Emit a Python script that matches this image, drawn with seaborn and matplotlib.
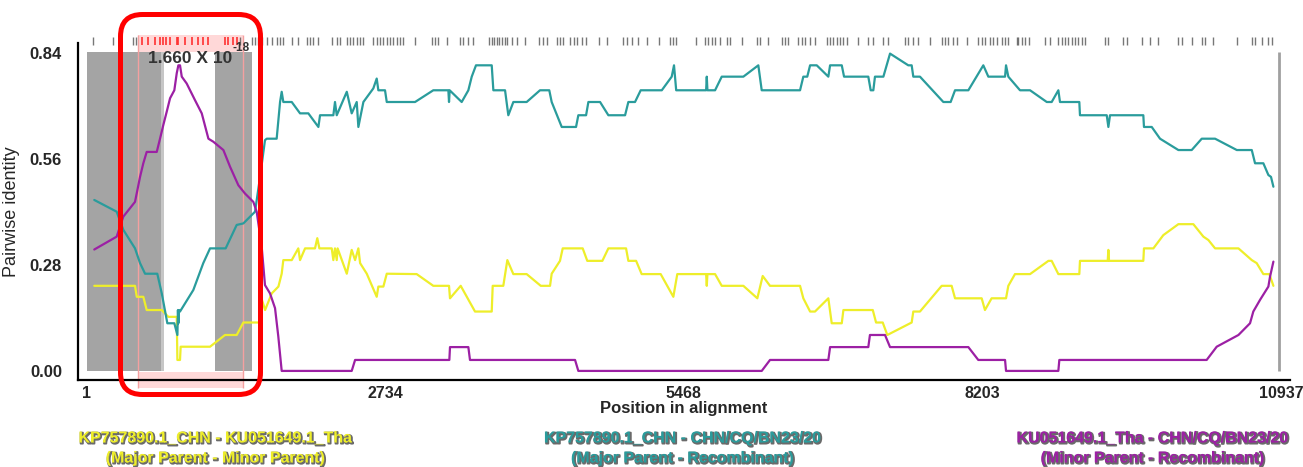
import numpy as np
import pandas as pd
import matplotlib
matplotlib.use("Agg")
import matplotlib.pyplot as plt
import matplotlib.patheffects as pe
from matplotlib.patches import FancyBboxPatch, Rectangle
import seaborn as sns

# pairwise identity traces (position in alignment, identity)
teal_pos = [72, 277, 338, 445, 491, 537, 649, 690, 741, 805, 833, 838, 842, 848, 857, 979, 1070, 1132,
            1275, 1376, 1437, 1544, 1590, 1635, 1651, 1742, 1773, 1788, 1803, 1880, 1956, 2032, 2124,
            2139, 2261, 2276, 2292, 2384, 2429, 2475, 2490, 2536, 2627, 2658, 2673, 2734, 2750, 3009,
            3176, 3314, 3320, 3326, 3436, 3497, 3528, 3567, 3711, 3726, 3833, 3863, 3909, 4031, 4153,
            4238, 4260, 4352, 4483, 4504, 4575, 4596, 4703, 4779, 4932, 4962, 5023, 5075, 5268, 5359,
            5380, 5400, 5674, 5680, 5686, 5756, 5817, 6015, 6152, 6183, 6534, 6564, 6600, 6626, 6687,
            6793, 6809, 6916, 6937, 7159, 7181, 7205, 7220, 7297, 7358, 7525, 7556, 7571, 7632, 7846,
            7913, 7953, 8075, 8212, 8258, 8411, 8420, 8441, 8548, 8640, 8793, 8838, 8899, 8914, 9091,
            9097, 9342, 9357, 9372, 9677, 9683, 9754, 9830, 9998, 10120, 10212, 10334, 10533, 10670,
            10700, 10776, 10822, 10846, 10868]
teal_ident = [0.452, 0.421, 0.373, 0.324, 0.285, 0.257, 0.257, 0.205, 0.126, 0.126, 0.095, 0.161, 0.126,
              0.161, 0.157, 0.214, 0.285, 0.324, 0.324, 0.386, 0.390, 0.421, 0.513, 0.610, 0.614, 0.614,
              0.711, 0.738, 0.711, 0.711, 0.681, 0.681, 0.645, 0.676, 0.676, 0.711, 0.676, 0.738, 0.681,
              0.711, 0.645, 0.711, 0.747, 0.773, 0.742, 0.742, 0.711, 0.711, 0.742, 0.742, 0.711, 0.742,
              0.711, 0.742, 0.778, 0.808, 0.808, 0.742, 0.742, 0.676, 0.711, 0.711, 0.742, 0.742, 0.711,
              0.645, 0.645, 0.676, 0.676, 0.711, 0.711, 0.676, 0.676, 0.711, 0.711, 0.742, 0.742, 0.778,
              0.808, 0.742, 0.742, 0.778, 0.742, 0.742, 0.778, 0.778, 0.808, 0.742, 0.742, 0.778, 0.778,
              0.808, 0.808, 0.778, 0.808, 0.808, 0.778, 0.778, 0.742, 0.742, 0.778, 0.778, 0.839, 0.808,
              0.808, 0.778, 0.778, 0.711, 0.711, 0.742, 0.742, 0.808, 0.778, 0.778, 0.808, 0.778, 0.742,
              0.742, 0.711, 0.711, 0.742, 0.711, 0.711, 0.676, 0.676, 0.645, 0.676, 0.676, 0.645, 0.645,
              0.614, 0.584, 0.584, 0.614, 0.614, 0.584, 0.584, 0.549, 0.549, 0.518, 0.513, 0.487]

yellow_pos = [72, 445, 461, 521, 552, 690, 750, 827, 833, 857, 863, 1132, 1269, 1376, 1437, 1590, 1605,
              1636, 1697, 1758, 1788, 1803, 1880, 1940, 1956, 2002, 2093, 2114, 2133, 2246, 2261, 2276,
              2292, 2300, 2384, 2429, 2460, 2490, 2506, 2567, 2658, 2673, 2719, 2750, 3024, 3176, 3320,
              3329, 3427, 3558, 3711, 3720, 3817, 3854, 3909, 4031, 4160, 4245, 4260, 4336, 4361, 4544,
              4586, 4724, 4779, 4941, 4962, 5033, 5084, 5258, 5374, 5410, 5674, 5680, 5686, 5756, 5817,
              6015, 6143, 6192, 6259, 6534, 6564, 6626, 6671, 6793, 6824, 6916, 6931, 7200, 7230, 7291,
              7333, 7556, 7571, 7632, 7831, 7922, 7953, 8197, 8227, 8288, 8420, 8441, 8502, 8640, 8808,
              8838, 8899, 9091, 9097, 9351, 9357, 9363, 9677, 9683, 9769, 9860, 9998, 10135, 10227, 10273,
              10334, 10548, 10670, 10715, 10776, 10831, 10868]
yellow_ident = [0.225, 0.225, 0.196, 0.196, 0.161, 0.161, 0.143, 0.143, 0.029, 0.029, 0.064, 0.064, 0.095,
                0.095, 0.128, 0.128, 0.190, 0.161, 0.205, 0.223, 0.257, 0.293, 0.293, 0.324, 0.293, 0.324,
                0.324, 0.351, 0.324, 0.324, 0.293, 0.324, 0.293, 0.324, 0.257, 0.320, 0.293, 0.324, 0.285,
                0.257, 0.196, 0.223, 0.223, 0.257, 0.256, 0.225, 0.225, 0.192, 0.225, 0.157, 0.157, 0.225,
                0.225, 0.293, 0.256, 0.256, 0.225, 0.225, 0.257, 0.291, 0.324, 0.324, 0.291, 0.291, 0.324,
                0.324, 0.291, 0.291, 0.256, 0.256, 0.196, 0.256, 0.256, 0.225, 0.256, 0.256, 0.225, 0.225,
                0.192, 0.251, 0.225, 0.225, 0.192, 0.157, 0.157, 0.192, 0.126, 0.126, 0.161, 0.161, 0.128,
                0.128, 0.095, 0.128, 0.157, 0.157, 0.225, 0.225, 0.192, 0.192, 0.161, 0.192, 0.192, 0.225,
                0.256, 0.256, 0.291, 0.291, 0.256, 0.256, 0.291, 0.291, 0.320, 0.291, 0.291, 0.324, 0.324,
                0.359, 0.388, 0.388, 0.355, 0.346, 0.324, 0.324, 0.293, 0.285, 0.256, 0.256, 0.225]

purple_pos = [72, 277, 338, 445, 491, 521, 552, 644, 674, 704, 735, 766, 805, 827, 842, 857, 873, 918,
              994, 1056, 1117, 1162, 1254, 1315, 1391, 1452, 1528, 1559, 1605, 1635, 1681, 1727, 1757,
              1788, 2429, 2460, 3323, 3329, 3497, 3512, 4474, 4504, 6183, 6259, 6793, 6809, 7159, 7174,
              7312, 7358, 8075, 8166, 8411, 8420, 8899, 8908, 10257, 10349, 10548, 10654, 10684, 10746,
              10822, 10837, 10868]
purple_ident = [0.321, 0.355, 0.408, 0.447, 0.513, 0.549, 0.579, 0.579, 0.614, 0.650, 0.685, 0.721, 0.742,
                0.787, 0.808, 0.808, 0.778, 0.760, 0.716, 0.681, 0.614, 0.606, 0.584, 0.540, 0.491, 0.469,
                0.447, 0.421, 0.328, 0.227, 0.205, 0.166, 0.091, 0.0, 0.0, 0.029, 0.029, 0.063, 0.063,
                0.029, 0.029, 0.0, 0.0, 0.029, 0.029, 0.063, 0.063, 0.095, 0.095, 0.063, 0.063, 0.029,
                0.029, 0.0, 0.0, 0.029, 0.029, 0.064, 0.095, 0.126, 0.157, 0.188, 0.223, 0.249, 0.289]

# informative sites shown along the top
red_sites = [506, 567, 628, 674, 704, 729, 766, 827, 842, 903, 964, 1025, 1070, 1116, 1269, 1299, 1345, 1376]
gray_sites = [63, 246, 430, 454, 1406, 1513, 1544, 1574, 1605, 1651, 1697, 1742, 1773, 1803, 1880, 1940,
              2017, 2047, 2078, 2124, 2246, 2292, 2322, 2384, 2414, 2444, 2475, 2505, 2536, 2627, 2658,
              2688, 2719, 2750, 2780, 2810, 2841, 2871, 2896, 3009, 3162, 3192, 3222, 3305, 3421, 3451,
              3497, 3543, 3689, 3711, 3732, 3757, 3781, 3805, 3833, 3854, 3894, 3940, 4016, 4147, 4178,
              4215, 4306, 4337, 4367, 4428, 4465, 4495, 4535, 4574, 4696, 4764, 4916, 4953, 4993, 5053,
              5130, 5245, 5343, 5368, 5398, 5582, 5664, 5694, 5725, 5756, 5801, 5863, 5893, 5999, 6137,
              6168, 6244, 6366, 6397, 6427, 6519, 6549, 6580, 6625, 6671, 6778, 6809, 6839, 6870, 6900,
              6931, 6961, 7068, 7159, 7205, 7297, 7342, 7495, 7525, 7571, 7617, 7724, 7831, 7861, 7892,
              7938, 7968, 8060, 8166, 8197, 8227, 8273, 8303, 8334, 8380, 8411, 8441, 8517, 8533, 8563,
              8594, 8633, 8777, 8823, 8899, 8930, 8960, 8991, 9021, 9052, 9082, 9113, 9143, 9326, 9357,
              9494, 9525, 9662, 9738, 9815, 9998, 10028, 10120, 10212, 10242, 10318, 10532, 10670, 10700,
              10761, 10822, 10852]

# shaded regions (start, end)
gray_spans = [(1, 683), (1178, 1513)]
light_span = (683, 713)
pink_span = (472, 1434)
alignment_end = 10920

x_ticks = [1, 2734, 5468, 8203, 10937]
y_ticks = [0.0, 0.28, 0.56, 0.84]
y_ticklabels = ["0.00", "0.28", "0.56", "0.84"]

pair_names = ["yellow", "teal", "purple"]
pair_colors = {"yellow": "#eeee2a", "teal": "#2a9c9c", "purple": "#9c20a4"}
pair_line1 = ["KP757890.1_CHN - KU051649.1_Tha", "KP757890.1_CHN - CHN/CQ/BN23/20",
              "KU051649.1_Tha - CHN/CQ/BN23/20"]
pair_line2 = ["(Major Parent - Minor Parent)", "(Major Parent - Recombinant)",
              "(Minor Parent - Recombinant)"]
pair_text_x = [216, 683, 1153]

sns.set_style("white")
plt.rcParams["font.family"] = ["Liberation Sans", "DejaVu Sans"]

W, H = 1303, 467
fig = plt.figure(figsize=(W / 100, H / 100), dpi=100)
ax = fig.add_axes([78 / W, 1 - 380 / H, 1212 / W, 337 / H])

# background regions
for x0, x1 in gray_spans:
    ax.add_patch(Rectangle((x0, 0), x1 - x0, 0.843, color="#a4a4a4", lw=0, zorder=1))
ax.add_patch(Rectangle((light_span[0], 0), light_span[1] - light_span[0], 0.843,
                       color="#c6c6c6", lw=0, zorder=1))
ax.add_patch(Rectangle((pink_span[0], 0.843), pink_span[1] - pink_span[0], 0.045,
                       color="#ffd8d8", lw=0, zorder=1, clip_on=False))
ax.add_patch(Rectangle((pink_span[0], -0.045), pink_span[1] - pink_span[0], 0.042,
                       color="#ffd8d8", lw=0, zorder=1, clip_on=False))
for xe in pink_span:
    ax.vlines(xe, -0.045, 0.888, color="#f4a0a0", lw=1, zorder=2, clip_on=False)
ax.vlines(alignment_end, 0, 0.843, color="#a0a0a0", lw=2, zorder=2)

# informative sites
ax.vlines(gray_sites, 0.861, 0.883, color="#555555", lw=1, alpha=0.8, clip_on=False, zorder=3)
ax.vlines(red_sites, 0.861, 0.883, color="#ff3030", lw=1.2, clip_on=False, zorder=3)

df = pd.concat([
    pd.DataFrame({"pos": yellow_pos, "ident": yellow_ident, "pair": "yellow"}),
    pd.DataFrame({"pos": teal_pos, "ident": teal_ident, "pair": "teal"}),
    pd.DataFrame({"pos": purple_pos, "ident": purple_ident, "pair": "purple"}),
], ignore_index=True)
sns.lineplot(data=df, x="pos", y="ident", hue="pair", palette=pair_colors, hue_order=pair_names,
             sort=False, estimator=None, legend=False, lw=1.6, ax=ax, zorder=4)

ax.set_xlim(-77, 11020)
ax.set_ylim(-0.024, 0.867)
ax.set_xticks(x_ticks)
ax.set_xticklabels([str(t) for t in x_ticks], fontweight="bold", fontsize=11.5)
ax.set_yticks(y_ticks)
ax.set_yticklabels(y_ticklabels, fontweight="bold", fontsize=12)
ax.tick_params(axis="y", direction="inout", length=5, width=1.5, pad=9)
ax.tick_params(axis="x", direction="inout", length=5, width=1.5, pad=2)
for s in ("top", "right"):
    ax.spines[s].set_visible(False)
for s in ("left", "bottom"):
    ax.spines[s].set_linewidth(1.6)
    ax.spines[s].set_color("black")

ax.set_ylabel("Pairwise identity", fontsize=13)
ax.yaxis.set_label_coords(-0.048, 0.5)
ax.set_xlabel("Position in alignment", fontsize=12, fontweight="bold")
ax.xaxis.set_label_coords(0.5, -0.062)

# p-value annotation
ax.text(1333, 0.827, "1.660 X 10", ha="right", va="center", fontsize=12.5, fontweight="bold",
        color="#333333", zorder=5)
ax.text(1340, 0.853, "-18", ha="left", va="center", fontsize=8.5, fontweight="bold",
        color="#333333", zorder=5, clip_on=False)

# red highlight box
fig.add_artist(FancyBboxPatch((1.205, 0.725), 1.40, 3.80, boxstyle="round,pad=0,rounding_size=0.22",
                              transform=fig.dpi_scale_trans, fill=False, ec="#ff0000", lw=3.6,
                              zorder=10))

shadow = [pe.Stroke(linewidth=1.3, foreground="#6a6a6a", offset=(0.8, -0.8)), pe.Normal()]
for name, l1, l2, px in zip(pair_names, pair_line1, pair_line2, pair_text_x):
    fig.text(px / W, 1 - 438 / H, l1, ha="center", va="center", fontsize=11.5, fontweight="bold",
             color=pair_colors[name], path_effects=shadow)
    fig.text(px / W, 1 - 458 / H, l2, ha="center", va="center", fontsize=11.5, fontweight="bold",
             color=pair_colors[name], path_effects=shadow)

fig.savefig("out.png", dpi=100)
